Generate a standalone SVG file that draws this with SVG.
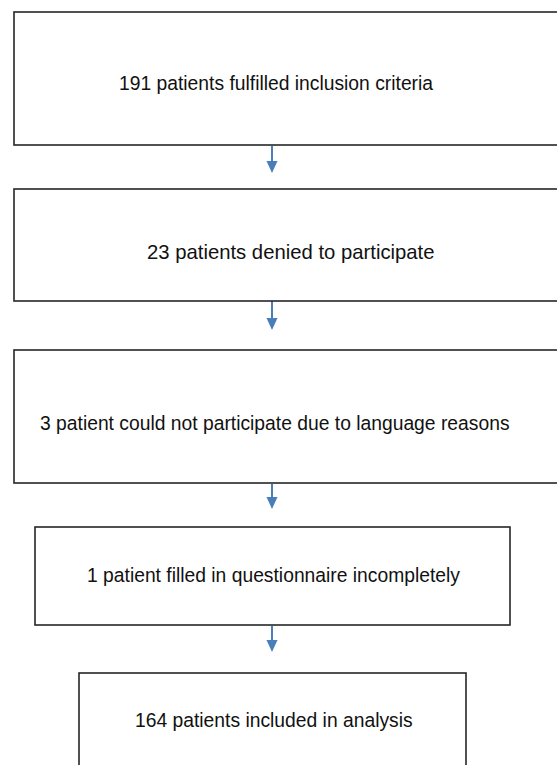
<svg xmlns="http://www.w3.org/2000/svg" width="557" height="765" viewBox="0 0 557 765">
<style>
.box{fill:#fff;stroke:#262626;stroke-width:1.6}
.t{font-family:"Liberation Sans",Arial,sans-serif;font-size:19.3px;fill:#111}
.c{stroke:#4a7ebb;stroke-width:2;fill:none}
.h{fill:#4a7ebb}
</style>
<rect width="557" height="765" fill="#fff"/>
<g id="connectors">
<line class="c" x1="272" y1="146" x2="272" y2="163"/>
<path class="h" d="M266.5,161 L277.5,161 L272,173 Z"/>
<line class="c" x1="272" y1="301" x2="272" y2="320"/>
<path class="h" d="M266.5,318 L277.5,318 L272,330 Z"/>
<line class="c" x1="272" y1="484" x2="272" y2="499"/>
<path class="h" d="M266.5,497 L277.5,497 L272,509 Z"/>
<line class="c" x1="272" y1="626" x2="272" y2="642"/>
<path class="h" d="M266.5,640 L277.5,640 L272,652 Z"/>
</g>
<g id="n1">
<rect class="box" x="14" y="12" width="560" height="133"/>
<text class="t" x="119" y="90">191 patients fulfilled inclusion criteria</text>
</g>
<g id="n2">
<rect class="box" x="14" y="189" width="560" height="112"/>
<text class="t" x="147" y="259" style="font-size:20.3px">23 patients denied to participate</text>
</g>
<g id="n3">
<rect class="box" x="14" y="350" width="560" height="133"/>
<text class="t" x="40" y="430">3 patient could not participate due to language reasons</text>
</g>
<g id="n4">
<rect class="box" x="35" y="527" width="475" height="98"/>
<text class="t" x="87" y="582">1 patient filled in questionnaire incompletely</text>
</g>
<g id="n5">
<rect class="box" x="79" y="673" width="387" height="120"/>
<text class="t" x="135" y="727">164 patients included in analysis</text>
</g>
</svg>
